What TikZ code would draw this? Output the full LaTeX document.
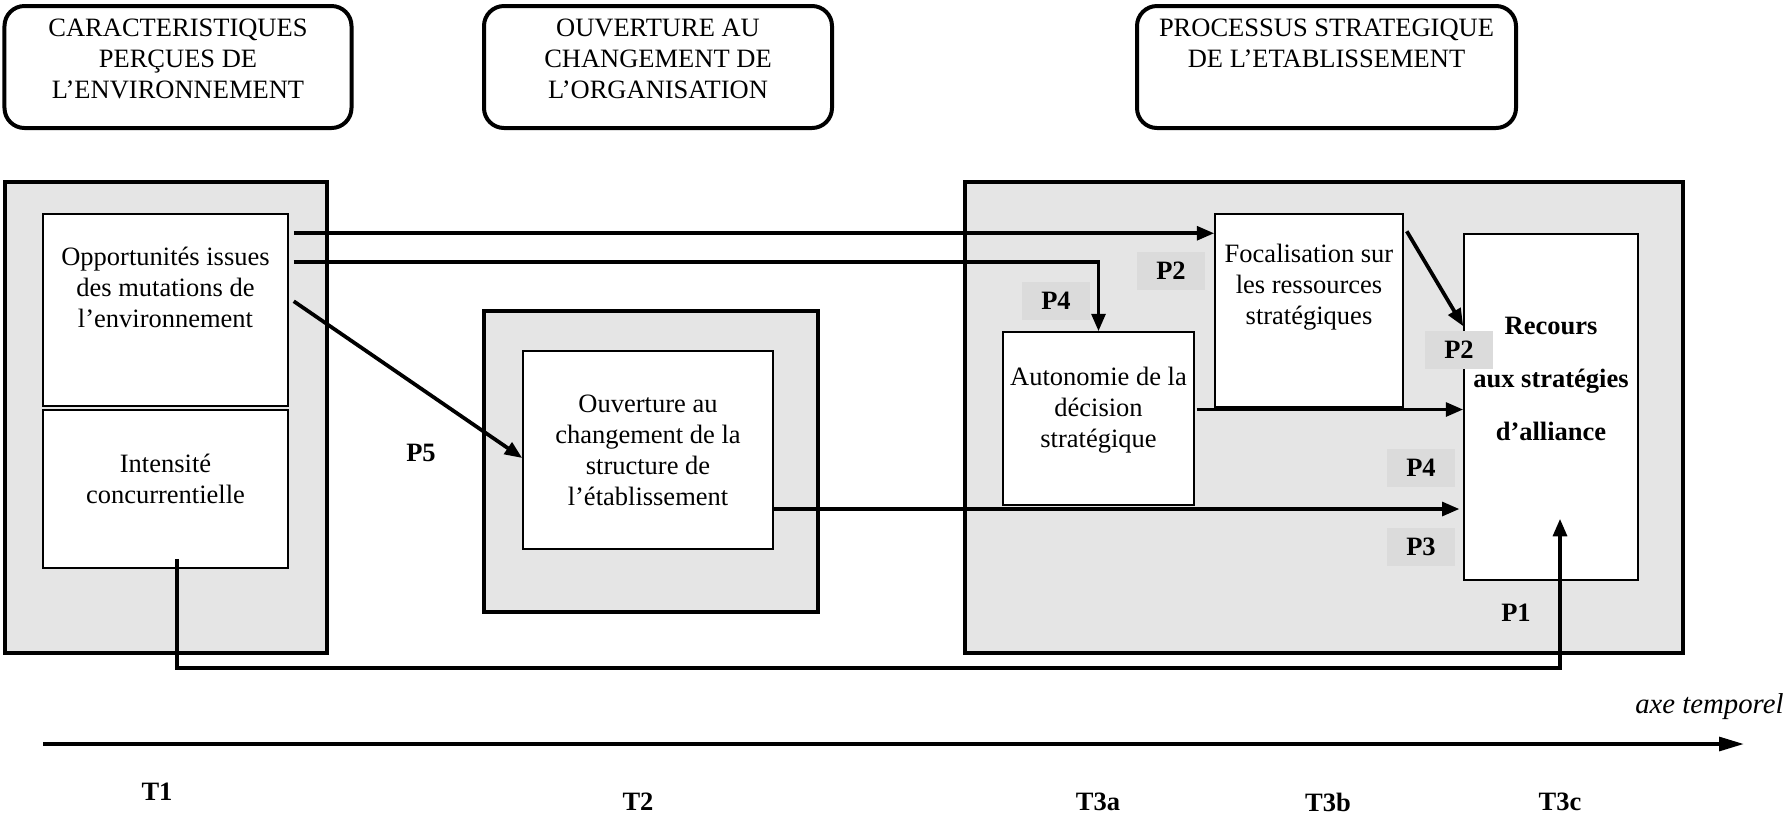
\documentclass[tikz,border=0pt]{standalone}
\usepackage{fontspec}
\setmainfont{Liberation Serif}
\usetikzlibrary{arrows.meta, calc}
\tikzset{
    head/.style={draw, rounded corners=8pt, line width=1.6pt, minimum height=48.8pt, inner sep=0pt},
    frame/.style={draw, fill=black!10, line width=1.7pt, inner sep=0pt},
    cell/.style={draw, fill=white, line width=0.6pt, inner sep=0pt},
    txt/.style={align=center, font=\fontsize{10.6}{12.4}\selectfont, inner sep=0pt},
    plab/.style={fill=black!14, font=\fontsize{10.6}{12.4}\selectfont\bfseries, minimum width=27pt, minimum height=15pt, inner sep=0pt},
    tlab/.style={font=\fontsize{10.6}{12.4}\selectfont\bfseries, inner sep=0pt},
    link/.style={line width=1.5pt, -{Triangle[length=7pt,width=5.5pt]}}
}

\begin{document}
\begin{tikzpicture}[x=0.4pt, y=-0.4pt]
    \useasboundingbox (0,0) rectangle (1787,816);

    % en-tetes
    \node[head, minimum width=138.8pt] (envH) at (178,67) {};
    \node[txt] (envT) at (178,59) {CARACTERISTIQUES\\PERÇUES DE\\L’ENVIRONNEMENT};
    \node[head, minimum width=139.2pt] (orgH) at (658,67) {};
    \node[txt] (orgT) at (658,59) {OUVERTURE AU\\CHANGEMENT DE\\L’ORGANISATION};
    \node[head, minimum width=151.6pt] (etaH) at (1326.5,67) {};
    \node[txt] (etaT) at (1326.5,43) {PROCESSUS STRATEGIQUE\\DE L’ETABLISSEMENT};

    % cadres gris
    \node[frame, minimum width=129pt, minimum height=188.4pt] (envF) at (166,417.5) {};
    \node[frame, minimum width=133.6pt, minimum height=120.4pt] (orgF) at (651,461.5) {};
    \node[frame, minimum width=287.2pt, minimum height=188.4pt] (etaF) at (1324,417.5) {};

    % cases
    \node[cell, minimum width=98pt, minimum height=76.8pt] (opp) at (165.5,310) {};
    \node[txt] (oppT) at (165.5,287) {Opportunités issues\\des mutations de\\l’environnement};
    \node[cell, minimum width=98pt, minimum height=63.2pt] (int) at (165.5,489) {};
    \node[txt] (intT) at (165.5,479) {Intensité\\concurrentielle};
    \node[cell, minimum width=100pt, minimum height=79.2pt] (ouv) at (648,450) {};
    \node[txt] (ouvT) at (648,450) {Ouverture au\\changement de la\\structure de\\l’établissement};
    \node[cell, minimum width=75.2pt, minimum height=77.2pt] (foc) at (1309,310.5) {};
    \node[txt] (focT) at (1309,287) {Focalisation sur\\les ressources\\stratégiques};
    \node[cell, minimum width=76.4pt, minimum height=69.2pt] (aut) at (1098.5,418.5) {};
    \node[txt] (autT) at (1098.5,410) {Autonomie de la\\décision\\stratégique};
    \node[cell, minimum width=69.6pt, minimum height=138.4pt] (rec) at (1551,407) {};
    \node[txt, font=\fontsize{10.6}{12.4}\selectfont\bfseries] (recT) at (1551,379) {Recours\\[8.8pt]aux stratégies\\[8.8pt]d’alliance};

    % liens
    \draw[link] ($(opp.north east)+(5,20)$) -- ($(foc.north west)+(0,20)$);
    \draw[link] ($(opp.north east)+(5,49)$) -| (aut.north);
    \draw[link] ($(opp.north east)+(5,88)$) -- ($(ouv.west)+(0,8)$);
    \draw[link] ($(foc.north east)+(3,18)$) -- ($(rec.north west)+(0,93)$);
    \coordinate (autOut) at ($(aut.east)+(2,-9)$);
    \draw[link] (autOut) -- (autOut -| rec.west);
    \coordinate (ouvOut) at ($(ouv.east)+(0,59)$);
    \draw[link, shorten >=1.5pt] (ouvOut) -- (ouvOut -| rec.west);
    \draw[link] ($(int.south)+(11.5,-10)$) -- ++(0,109) -| ($(rec.south)+(9,-62)$);

    % propositions
    \node[tlab] (p5) at (421,453) {P5};
    \node[plab] (p4a) at (1056,301) {P4};
    \node[plab] (p2a) at (1171,271) {P2};
    \node[plab] (p2b) at (1459,350) {P2};
    \node[plab] (p4b) at (1421,468) {P4};
    \node[plab] (p3) at (1421,547) {P3};
    \node[tlab] (p1) at (1516,613) {P1};

    % axe temporel
    \coordinate (tStart) at (43,744);
    \coordinate (tEnd) at (1744,744);
    \draw[line width=1.5pt, -{Triangle[length=10pt,width=5.5pt]}] (tStart) -- (tEnd);
    \node[txt, font=\fontsize{11.5}{12.4}\selectfont\itshape, anchor=east] (axe) at (1784,707) {axe temporel};
    \node[tlab] (t1) at (157,792) {T1};
    \node[tlab] (t2) at (638,802) {T2};
    \node[tlab] (t3a) at (1098,802) {T3a};
    \node[tlab] (t3b) at (1328,802) {T3b};
    \node[tlab] (t3c) at (1560,802) {T3c};
\end{tikzpicture}
\end{document}
